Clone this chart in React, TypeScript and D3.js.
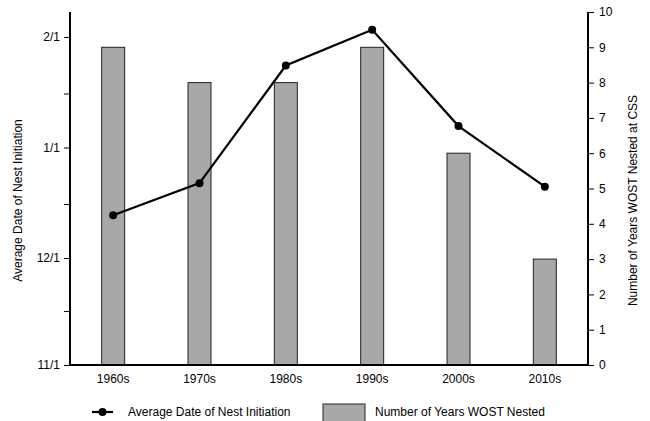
import React, { useEffect, useRef } from 'react';
import * as d3 from 'd3';

const decades = ['1960s', '1970s', '1980s', '1990s', '2000s', '2010s'];
// average date of nest initiation (month/day, season runs Nov -> Feb)
const initDates = ['12/13', '12/22', '1/24', '2/3', '1/7', '12/21'];
// number of years WOST nested at CSS
const yearsNested = [9, 8, 8, 9, 6, 3];
const dateTicks = ['11/1', '12/1', '1/1', '2/1'];
const minorTicks = ['11/16', '12/16', '1/16'];

const toDate = (s: string) => {
  const [m, d] = s.split('/').map(Number);
  return new Date(m >= 9 ? 2000 : 2001, m - 1, d);
};

const App: React.FC = () => {
  const svgRef = useRef<SVGSVGElement | null>(null);

  useEffect(() => {
    if (!svgRef.current) return;
    const svg = d3.select(svgRef.current);
    svg.selectAll('*').remove();

    const width = 650;
    const height = 421;
    const margin = { top: 12, right: 62, bottom: 56, left: 70 };
    const font = 'Arial, "Liberation Sans", sans-serif';

    const x = d3.scaleBand()
      .domain(decades)
      .range([margin.left, width - margin.right])
      .paddingInner(0)
      .paddingOuter(0);

    const yR = d3.scaleLinear()
      .domain([0, 10])
      .range([height - margin.bottom, margin.top]);

    const yL = d3.scaleTime()
      .domain([toDate('11/1'), toDate('2/8')])
      .range([height - margin.bottom, margin.top]);

    const barW = 23;

    // bars
    svg.append('g')
      .selectAll('rect')
      .data(yearsNested)
      .join('rect')
      .attr('x', (_, i) => (x(decades[i]) || 0) + x.bandwidth() / 2 - barW / 2)
      .attr('y', d => yR(d))
      .attr('width', barW)
      .attr('height', d => yR(0) - yR(d))
      .attr('fill', '#a8a8a8')
      .attr('stroke', '#222')
      .attr('stroke-width', 1);

    // line
    const pts = initDates.map((d, i) => [
      (x(decades[i]) || 0) + x.bandwidth() / 2,
      yL(toDate(d)),
    ] as [number, number]);

    svg.append('path')
      .attr('d', d3.line()(pts) || '')
      .attr('fill', 'none')
      .attr('stroke', '#000')
      .attr('stroke-width', 2.2);

    svg.append('g')
      .selectAll('circle')
      .data(pts)
      .join('circle')
      .attr('cx', d => d[0])
      .attr('cy', d => d[1])
      .attr('r', 4)
      .attr('fill', '#000');

    // left axis
    const left = svg.append('g')
      .attr('transform', `translate(${margin.left},0)`)
      .call(
        d3.axisLeft(yL)
          .tickValues(dateTicks.map(toDate))
          .tickFormat((_, i) => dateTicks[i])
          .tickSize(6)
          .tickPadding(4)
      );
    left.append('g')
      .selectAll('line')
      .data(minorTicks.map(toDate))
      .join('line')
      .attr('x1', -6)
      .attr('x2', 0)
      .attr('y1', d => yL(d))
      .attr('y2', d => yL(d))
      .attr('stroke', '#000');

    // right axis
    const right = svg.append('g')
      .attr('transform', `translate(${width - margin.right},0)`)
      .call(d3.axisRight(yR).ticks(10).tickSize(6).tickPadding(5));

    // bottom axis
    const bottom = svg.append('g')
      .attr('transform', `translate(0,${height - margin.bottom})`)
      .call(d3.axisBottom(x).tickSize(0).tickPadding(9));

    [left, right, bottom].forEach(g => {
      g.select('.domain').attr('stroke', '#000').attr('stroke-width', 2);
      g.selectAll('.tick line').attr('stroke', '#000');
      g.selectAll('text')
        .attr('font-family', font)
        .attr('font-size', 12)
        .attr('fill', '#000');
    });
    left.select('.domain').attr('d', `M0,${margin.top}V${height - margin.bottom}`);
    right.select('.domain').attr('d', `M0,${margin.top}V${height - margin.bottom}`);
    bottom.select('.domain').attr('d', `M${margin.left},0H${width - margin.right}`);

    // axis titles
    svg.append('text')
      .attr('transform', `translate(22,${(margin.top + height - margin.bottom) / 2 + 12}) rotate(-90)`)
      .attr('text-anchor', 'middle')
      .attr('font-family', font)
      .attr('font-size', 12)
      .text('Average Date of Nest Initiation');

    svg.append('text')
      .attr('transform', `translate(637,${(margin.top + height - margin.bottom) / 2 + 12}) rotate(-90)`)
      .attr('text-anchor', 'middle')
      .attr('font-family', font)
      .attr('font-size', 12)
      .text('Number of Years WOST Nested at CSS');

    // legend
    const lg = svg.append('g');
    lg.append('line')
      .attr('x1', 92).attr('x2', 113)
      .attr('y1', 412).attr('y2', 412)
      .attr('stroke', '#000').attr('stroke-width', 2.2);
    lg.append('circle').attr('cx', 102.5).attr('cy', 412).attr('r', 4).attr('fill', '#000');
    lg.append('text')
      .attr('x', 128).attr('y', 416)
      .attr('font-family', font).attr('font-size', 12)
      .text('Average Date of Nest Initiation');
    lg.append('rect')
      .attr('x', 323).attr('y', 404)
      .attr('width', 42).attr('height', 20)
      .attr('fill', '#a8a8a8').attr('stroke', '#222');
    lg.append('text')
      .attr('x', 375).attr('y', 416)
      .attr('font-family', font).attr('font-size', 12)
      .text('Number of Years WOST Nested');
  }, []);

  return (
    <svg
      ref={svgRef}
      width={650}
      height={421}
      style={{ position: 'absolute', left: 0, top: 0, background: '#fff' }}
    />
  );
};

export default App;
